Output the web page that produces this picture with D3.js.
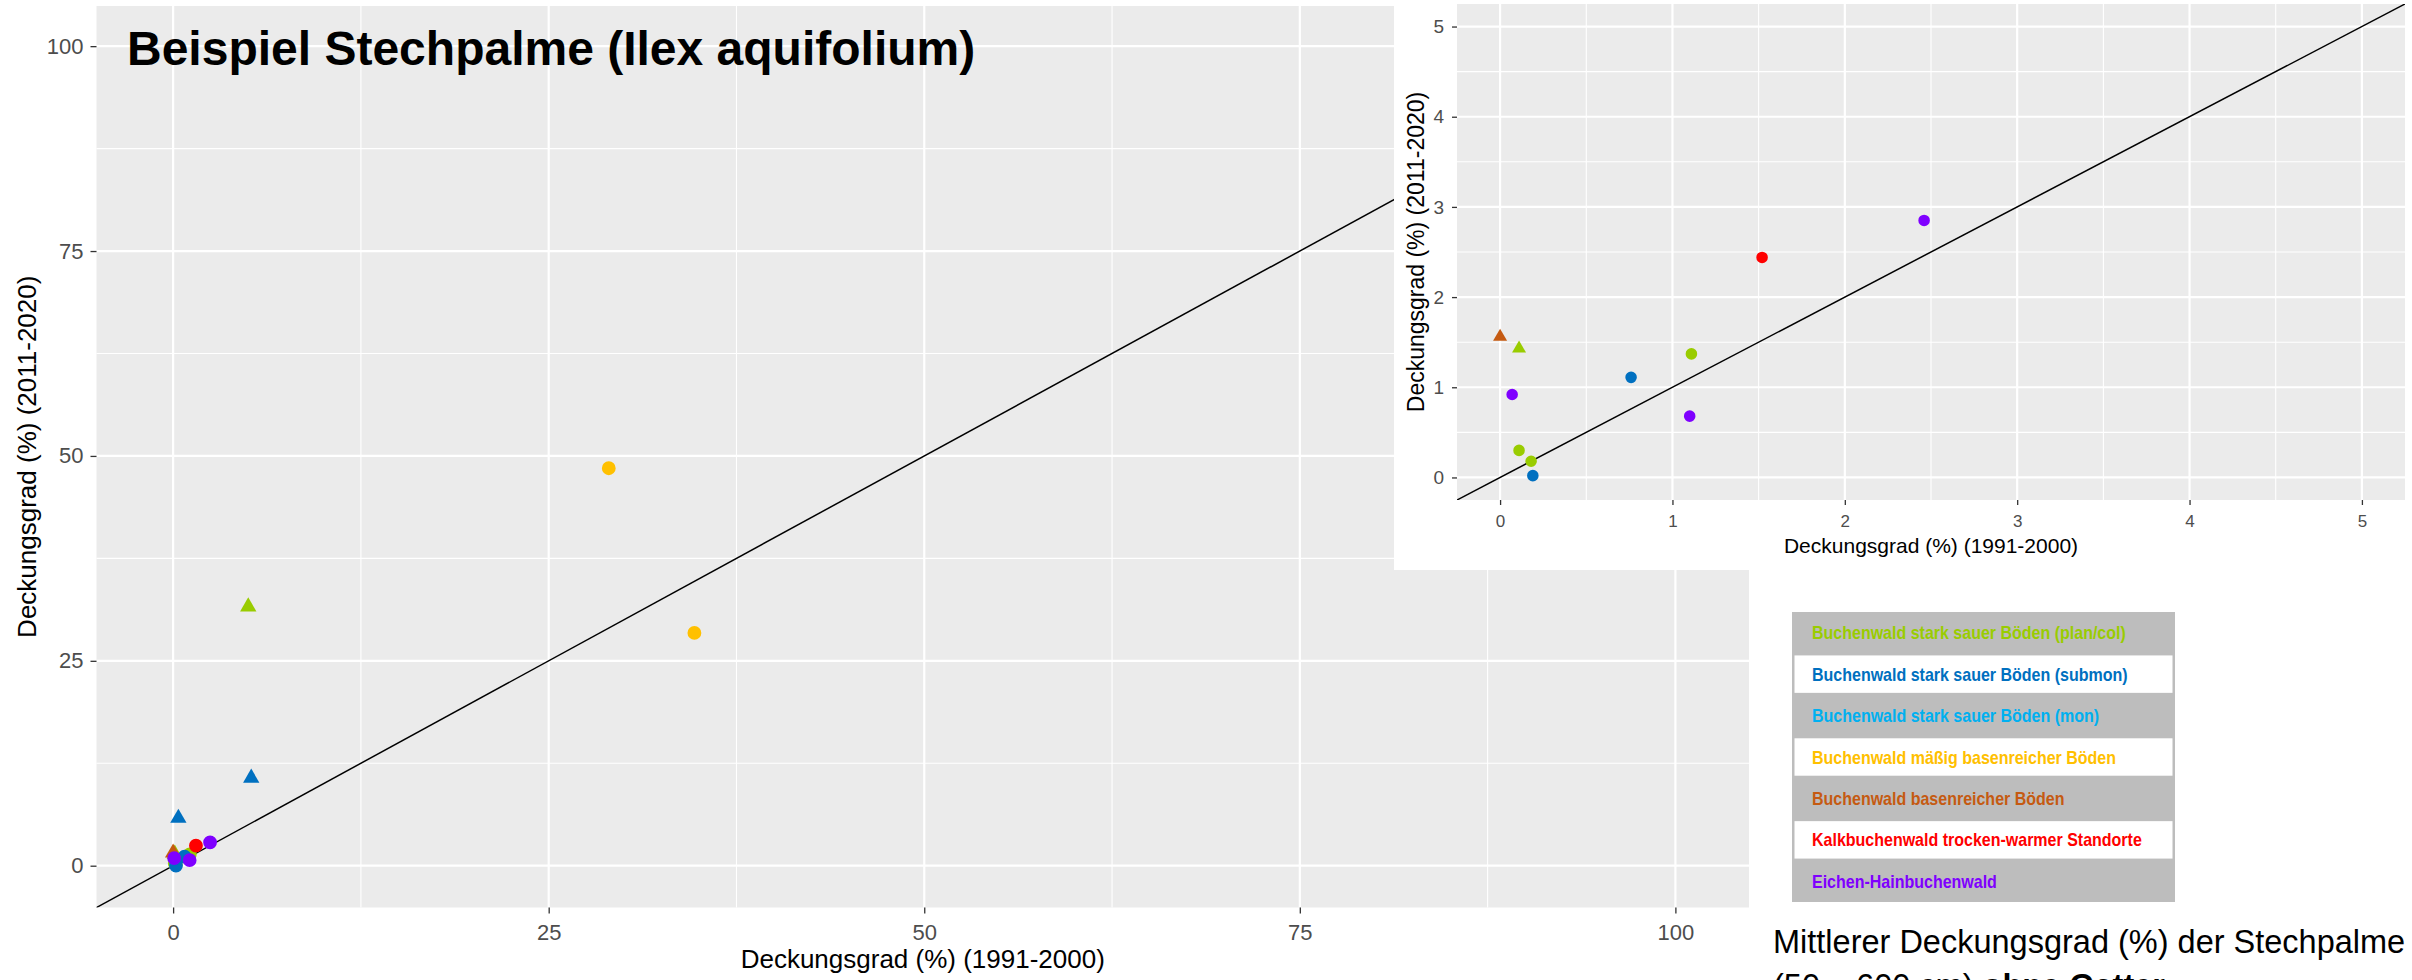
<!DOCTYPE html>
<html><head><meta charset="utf-8">
<script src="https://cdn.jsdelivr.net/npm/d3@7"></script>
<style>
body{margin:0;background:#fff;}
svg{display:block;font-family:"Liberation Sans",Arial,sans-serif;}
</style>
</head><body>
<svg id="chart" width="2412" height="980"></svg>
<script>
// ---------- data ----------
const categories = [
  "Buchenwald stark sauer Böden (plan/col)",
  "Buchenwald stark sauer Böden (submon)",
  "Buchenwald stark sauer Böden (mon)",
  "Buchenwald mäßig basenreicher Böden",
  "Buchenwald basenreicher Böden",
  "Kalkbuchenwald trocken-warmer Standorte",
  "Eichen-Hainbuchenwald"
];
const palette = ["#99cc00", "#0070c0", "#00b0f0", "#ffc000", "#c55a11", "#ff0000", "#7f00ff"];

const pointCategory = [0, 0, 0, 0, 0, 1, 1, 1, 1, 3, 3, 4, 5, 6, 6, 6];
const pointShape = ["triangle","triangle","circle","circle","circle",
                    "triangle","triangle","circle","circle",
                    "circle","circle","triangle","circle","circle","circle","circle"];
const cover1991 = [5.0, 0.11, 1.11, 0.11, 0.18, 5.2, 0.35, 0.76, 0.19, 29.0, 34.7, 0.0, 1.52, 2.46, 1.10, 0.07];
const cover2011 = [31.6, 1.43, 1.37, 0.30, 0.18, 10.7, 5.8, 1.11, 0.02, 48.5, 28.4, 1.56, 2.44, 2.85, 0.68, 0.92];

const mainTicks = [0, 25, 50, 75, 100];
const mainMinor = [12.5, 37.5, 62.5, 87.5];
const insetTicks = [0, 1, 2, 3, 4, 5];
const insetMinor = [0.5, 1.5, 2.5, 3.5, 4.5];

const chartTitle = "Beispiel Stechpalme (Ilex aquifolium)";
const xTitle = "Deckungsgrad (%) (1991-2000)";
const yTitle = "Deckungsgrad (%) (2011-2020)";
const captionLine1 = "Mittlerer Deckungsgrad (%) der Stechpalme";
const captionLine2a = "(50 – 600 cm) ";
const captionLine2b = "ohne Gatter";

const points = cover1991.map((v, i) => ({x: v, y: cover2011[i], c: pointCategory[i], s: pointShape[i]}));

const svg = d3.select("#chart");

function panel(cfg) {
  const x = d3.scaleLinear().domain(cfg.domain).range(cfg.xRange);
  const y = d3.scaleLinear().domain(cfg.domain).range(cfg.yRange);
  const g = svg.append("g");
  const [x0, x1] = cfg.xRange, [y1, y0] = cfg.yRange;
  g.append("rect").attr("x", x0).attr("y", y0).attr("width", x1 - x0).attr("height", y1 - y0).attr("fill", "#ebebeb");
  g.selectAll(".vmin").data(cfg.minor).join("line")
    .attr("x1", d => x(d)).attr("x2", d => x(d)).attr("y1", y0).attr("y2", y1)
    .attr("stroke", "#fff").attr("stroke-width", 1.1);
  g.selectAll(".hmin").data(cfg.minor).join("line")
    .attr("y1", d => y(d)).attr("y2", d => y(d)).attr("x1", x0).attr("x2", x1)
    .attr("stroke", "#fff").attr("stroke-width", 1.1);
  g.selectAll(".vmaj").data(cfg.ticks).join("line")
    .attr("x1", d => x(d)).attr("x2", d => x(d)).attr("y1", y0).attr("y2", y1)
    .attr("stroke", "#fff").attr("stroke-width", 2.2);
  g.selectAll(".hmaj").data(cfg.ticks).join("line")
    .attr("y1", d => y(d)).attr("y2", d => y(d)).attr("x1", x0).attr("x2", x1)
    .attr("stroke", "#fff").attr("stroke-width", 2.2);

  const clipId = cfg.id + "-clip";
  g.append("clipPath").attr("id", clipId).append("rect")
    .attr("x", x0).attr("y", y0).attr("width", x1 - x0).attr("height", y1 - y0);
  const body = g.append("g").attr("clip-path", `url(#${clipId})`);
  body.append("path")
    .attr("d", d3.line().x(d => x(d)).y(d => y(d))([cfg.domain[0] - 1, cfg.domain[1] + 1]))
    .attr("stroke", "#000").attr("stroke-width", 1.5).attr("fill", "none");
  const ordered = points.slice().sort((a, b) => a.c - b.c);
  body.selectAll(".pt").data(ordered).join("path")
    .attr("transform", d => `translate(${x(d.x)},${y(d.y)})`)
    .attr("d", d => d3.symbol()
      .type(d.s === "triangle" ? d3.symbolTriangle : d3.symbolCircle)
      .size(d.s === "triangle" ? cfg.triSize : cfg.circSize)())
    .attr("fill", d => palette[d.c]);

  const xa = g.append("g").attr("transform", `translate(0,${y1})`)
    .call(d3.axisBottom(x).tickValues(cfg.ticks).tickSize(cfg.tickLen).tickPadding(cfg.xPad).tickFormat(d3.format("d")));
  const ya = g.append("g").attr("transform", `translate(${x0},0)`)
    .call(d3.axisLeft(y).tickValues(cfg.ticks).tickSize(cfg.tickLen).tickPadding(cfg.yPad).tickFormat(d3.format("d")));
  [xa, ya].forEach(a => {
    a.select(".domain").remove();
    a.selectAll(".tick line").attr("stroke", "#333").attr("stroke-width", 1.3);
    a.selectAll(".tick text").attr("fill", "#4d4d4d").attr("font-family", '"Liberation Sans",Arial,sans-serif');
  });
  xa.selectAll(".tick text").attr("font-size", cfg.xTickFont);
  ya.selectAll(".tick text").attr("font-size", cfg.yTickFont);

  g.append("text").attr("x", (x0 + x1) / 2).attr("y", cfg.xTitleY)
    .attr("text-anchor", "middle").attr("font-size", cfg.xTitleFont).attr("fill", "#000").text(xTitle);
  g.append("text").attr("transform", `translate(${cfg.yTitleX},${(y0 + y1) / 2}) rotate(-90)`)
    .attr("text-anchor", "middle").attr("font-size", cfg.yTitleFont).attr("fill", "#000").text(yTitle);
  return g;
}

// ---------- main panel ----------
panel({
  id: "main", domain: [-5.1, 104.9], xRange: [96.5, 1749], yRange: [907.5, 6],
  ticks: mainTicks, minor: mainMinor, triSize: 115, circSize: 150,
  tickLen: 6, xPad: 11, yPad: 7, xTickFont: 22, yTickFont: 22,
  xTitleY: 968, xTitleFont: 26, yTitleX: 36, yTitleFont: 26
});

svg.append("text").attr("x", 127).attr("y", 65)
  .attr("font-size", 48).attr("font-weight", "bold").attr("fill", "#000").text(chartTitle);

// ---------- inset ----------
svg.append("rect").attr("x", 1394).attr("y", 0).attr("width", 1018).attr("height", 570).attr("fill", "#fff");
panel({
  id: "inset", domain: [-0.25, 5.25], xRange: [1457, 2405], yRange: [500, 4],
  ticks: insetTicks, minor: insetMinor, triSize: 85, circSize: 105,
  tickLen: 5, xPad: 10, yPad: 8, xTickFont: 17, yTickFont: 19,
  xTitleY: 553, xTitleFont: 21, yTitleX: 1423.5, yTitleFont: 23
});

// ---------- legend ----------
const lgX = 1792, lgY = 612, lgW = 383, lgH = 290;
const rowH = lgH / categories.length;
const lg = svg.append("g");
lg.append("rect").attr("x", lgX).attr("y", lgY).attr("width", lgW).attr("height", lgH).attr("fill", "#bdbdbd");
lg.selectAll(".wr").data(categories.filter((d, i) => i % 2 === 1)).join("rect")
  .attr("x", lgX + 2.5).attr("y", (d) => lgY + categories.indexOf(d) * rowH + 2)
  .attr("width", lgW - 5).attr("height", rowH - 4).attr("fill", "#fff");
lg.selectAll(".lt").data(categories).join("text")
  .attr("transform", (d, i) => `translate(${lgX + 20},${lgY + (i + 0.5) * rowH + 6.5}) scale(0.89,1)`)
  .attr("font-size", 18).attr("font-weight", "bold")
  .attr("fill", (d, i) => palette[i]).text(d => d);

// ---------- caption ----------
svg.append("text").attr("x", 1773).attr("y", 952.7).attr("font-size", 32.5).attr("fill", "#000").text(captionLine1);
const c2 = svg.append("text").attr("x", 1773).attr("y", 997).attr("font-size", 32.5).attr("fill", "#000");
c2.append("tspan").text(captionLine2a);
c2.append("tspan").attr("font-weight", "bold").text(captionLine2b);
</script>
</body></html>
